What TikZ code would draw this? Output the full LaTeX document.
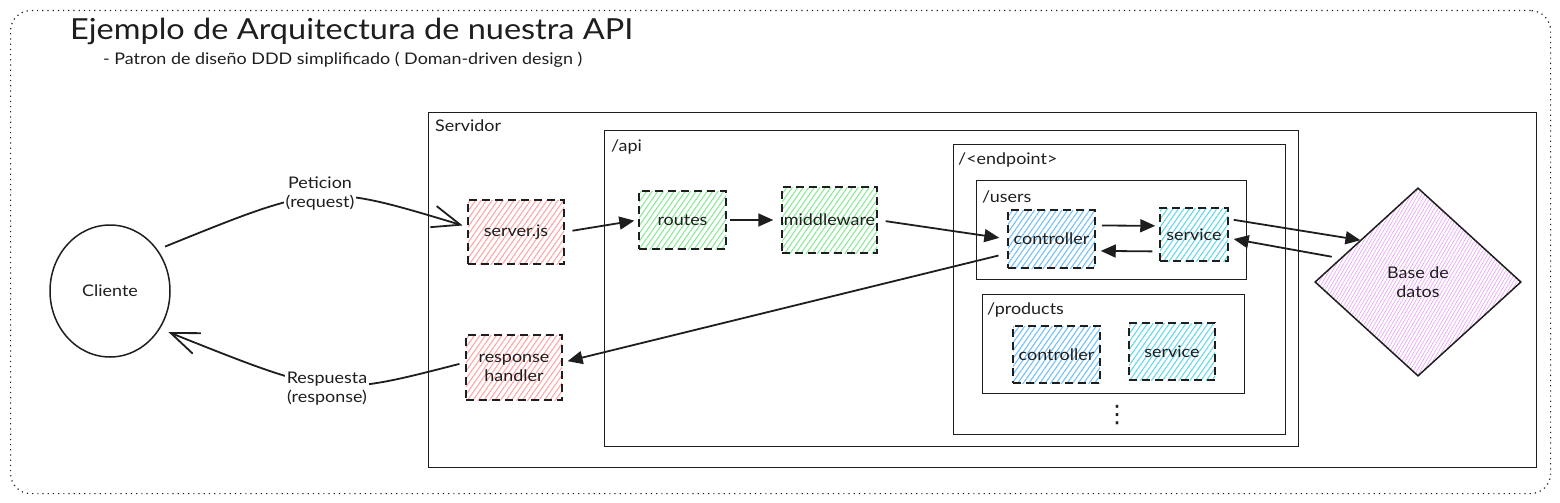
\documentclass[tikz,border=0pt]{standalone}
\usepackage{fontspec}
\setmainfont{Lato}[FakeStretch=1.12]
\newfontfamily\symfont{DejaVu Sans}
\usetikzlibrary{shapes.geometric,arrows.meta,patterns.meta}
\definecolor{ink}{HTML}{1E1E1E}
\definecolor{hred}{HTML}{FFA8A8}
\definecolor{hgreen}{HTML}{8CE99A}
\definecolor{hblue}{HTML}{74C0FC}
\definecolor{hcyan}{HTML}{66D9E8}
\definecolor{hviolet}{HTML}{E9A8F7}
\tikzset{
  frame/.style={draw=ink, line width=1.3pt, inner sep=0pt, anchor=north west},
  outerframe/.style={draw=ink, line width=1.2pt, dash pattern=on 1.2pt off 4pt, rounded corners=20pt, inner sep=0pt, anchor=north west},
  boxbase/.style={draw=ink, line width=1.5pt, dash pattern=on 8pt off 5pt, inner sep=0pt, text=ink, align=center, font=\fontsize{16}{19}\selectfont},
  redbox/.style={boxbase, pattern={Lines[angle=55,distance=4.5pt,line width=1.1pt]}, pattern color=hred},
  greenbox/.style={boxbase, pattern={Lines[angle=55,distance=4.5pt,line width=1.1pt]}, pattern color=hgreen},
  bluebox/.style={boxbase, pattern={Lines[angle=55,distance=4.5pt,line width=1.1pt]}, pattern color=hblue},
  cyanbox/.style={boxbase, pattern={Lines[angle=55,distance=4.5pt,line width=1.1pt]}, pattern color=hcyan},
  lbl/.style={anchor=base west, inner sep=0pt, text=ink, font=\fontsize{16}{19}\selectfont},
  edgelbl/.style={fill=white, inner sep=2pt, text=ink, align=center, font=\fontsize{16}{19}\selectfont},
  flow/.style={draw=ink, line width=1.8pt, -{Triangle[length=15pt,width=13pt]}},
  openflow/.style={draw=ink, line width=1.8pt, -{Straight Barb[length=28pt,width=22pt,line width=1.8pt]}},
}
\begin{document}
\begin{tikzpicture}[x=1pt,y=-1pt]
\path[use as bounding box] (0,0) rectangle (1560,503);

% frames
\node[outerframe, minimum width=1540pt, minimum height=483pt] (outer) at (10,10) {};
\node[anchor=base west, inner sep=0pt, text=ink, font=\fontsize{29}{34}\selectfont] (title) at (70,40) {Ejemplo de Arquitectura de nuestra API};
\node[anchor=base west, inner sep=0pt, text=ink, font=\fontsize{16}{19}\selectfont] (subtitle) at (103,65) {- Patron de diseño DDD simplificado ( Doman-driven design )};

\node[frame, minimum width=1108pt, minimum height=355pt] (servidor) at (428,112) {};
\node[lbl] (servidorlbl) at (435,131) {Servidor};
\node[frame, minimum width=694pt, minimum height=316pt] (api) at (604,130) {};
\node[lbl] (apilbl) at (611,151) {/api};
\node[frame, minimum width=332pt, minimum height=290pt] (endpoint) at (953,144) {};
\node[lbl] (endpointlbl) at (958,164) {/<endpoint>};
\node[frame, minimum width=270pt, minimum height=99pt] (users) at (976,180) {};
\node[lbl] (userslbl) at (982,202) {/users};
\node[frame, minimum width=262pt, minimum height=99pt] (products) at (982,294) {};
\node[lbl] (productslbl) at (987,314) {/products};

% client
\node[ellipse, draw=ink, line width=1.5pt, minimum width=120pt, minimum height=132pt, inner sep=0pt, text=ink, font=\fontsize{16}{19}\selectfont] (cliente) at (110,291) {Cliente};

% boxes
\node[redbox, minimum width=96pt, minimum height=64pt] (serverjs) at (516,232) {server.js};
\node[redbox, minimum width=96pt, minimum height=65pt] (rhandler) at (514,367.5) {response\\handler};
\node[greenbox, minimum width=87pt, minimum height=58pt] (routes) at (682.5,220) {routes};
\node[greenbox, minimum width=95pt, minimum height=66pt] (middleware) at (829.5,220) {middleware};
\node[bluebox, minimum width=87pt, minimum height=58pt] (ucontroller) at (1051.5,239) {controller};
\node[cyanbox, minimum width=68pt, minimum height=53pt] (uservice) at (1194,234.5) {service};
\node[bluebox, minimum width=87pt, minimum height=57pt] (pcontroller) at (1056.5,354.5) {controller};
\node[cyanbox, minimum width=86pt, minimum height=57pt] (pservice) at (1172,351.5) {service};
\node[text=ink, inner sep=0pt, font=\symfont\fontsize{24}{24}\selectfont] (dots) at (1117,415) {⋮};

% database
\node[diamond, draw=ink, line width=1.5pt, minimum width=206pt, minimum height=188pt, inner sep=0pt, pattern={Lines[angle=60,distance=3pt,line width=0.7pt]}, pattern color=hviolet, text=ink, align=center, font=\fontsize{16}{19}\selectfont] (db) at (1418,282) {Base de\\datos};

% connectors
\draw[openflow, shorten <=8pt, shorten >=5pt] (cliente.41) .. controls (322,183) .. (serverjs.174);
\node[edgelbl] (peticion) at (320,194) {Peticion\\(request)};
\draw[openflow, shorten <=6pt, shorten >=9pt] (rhandler.174) .. controls (331,397) .. (cliente.-37);
\node[edgelbl] (respuesta) at (327,389) {Respuesta\\(response)};

\draw[flow, shorten <=8pt, shorten >=4pt] (serverjs.east) -- (routes.west);
\draw[flow, shorten <=3pt, shorten >=8pt] (routes.east) -- (middleware.west);
\draw[flow, shorten <=8pt, shorten >=8pt] (middleware.east) -- (ucontroller.west);
\draw[flow, shorten <=6pt, shorten >=4pt] (ucontroller.17) -- (uservice.166);
\draw[flow, shorten <=7pt, shorten >=5pt] (uservice.206) -- (ucontroller.-15);
\draw[flow, shorten <=5pt] (uservice.24) -- (db.144);
\draw[flow, shorten <=9pt, shorten >=5pt] (db.163) -- (uservice.-6);
\draw[flow, shorten <=9pt, shorten >=5pt] (ucontroller.198) -- (rhandler.6);
\end{tikzpicture}
\end{document}
